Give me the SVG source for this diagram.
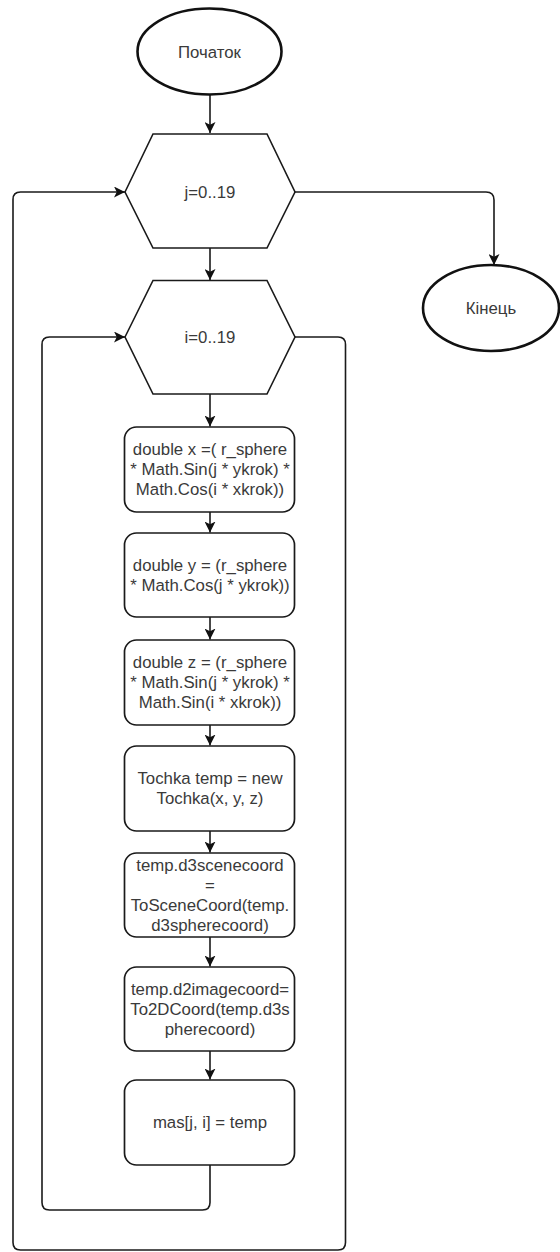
<svg xmlns="http://www.w3.org/2000/svg" width="560" height="1252" viewBox="0 0 560 1252">
  <style>
    .bg { fill: #ffffff; }
    .term { fill: #ffffff; stroke: #111111; stroke-width: 2.6; }
    .loop { fill: #ffffff; stroke: #1a1a1a; stroke-width: 1.6; stroke-linejoin: miter; }
    .proc { fill: #ffffff; stroke: #1a1a1a; stroke-width: 1.7; }
    .edge { fill: none; stroke: #1a1a1a; stroke-width: 1.6; }
    .lbl { font-family: "Liberation Sans", Arial, sans-serif; font-size: 16.8px; fill: #3a3a3a; text-anchor: middle; dominant-baseline: central; }
  </style>
  <defs>
    <marker id="arrow" viewBox="0 0 10 10" refX="10" refY="5" markerWidth="11" markerHeight="11" markerUnits="userSpaceOnUse" orient="auto">
      <path d="M0,0 L10,5 L0,10 L2.5,5 z" fill="#111111"/>
    </marker>
  </defs>

  <rect class="bg" x="0" y="0" width="560" height="1252"/>

  <!-- connectors -->
  <g id="connectors">
    <path class="edge" d="M210,95 V133" marker-end="url(#arrow)"/>
    <path class="edge" d="M210,248 V280" marker-end="url(#arrow)"/>
    <path class="edge" d="M210,394 V426.5" marker-end="url(#arrow)"/>
    <path class="edge" d="M210,512 V532.5" marker-end="url(#arrow)"/>
    <path class="edge" d="M210,617 V639.5" marker-end="url(#arrow)"/>
    <path class="edge" d="M210,725 V745.5" marker-end="url(#arrow)"/>
    <path class="edge" d="M210,831 V852.5" marker-end="url(#arrow)"/>
    <path class="edge" d="M210,937 V966.5" marker-end="url(#arrow)"/>
    <path class="edge" d="M210,1051 V1079.5" marker-end="url(#arrow)"/>
    <!-- exit of the outer loop -->
    <path class="edge" d="M295,192 H486 Q494,192 494,200 V265" marker-end="url(#arrow)"/>
    <!-- outer loop return (j) -->
    <path class="edge" d="M295,337 H338 Q345.5,337 345.5,344.5 V1242.5 Q345.5,1250 338,1250 H20.5 Q13,1250 13,1242.5 V199.5 Q13,192 20.5,192 H125" marker-end="url(#arrow)"/>
    <!-- inner loop return (i) -->
    <path class="edge" d="M210,1165 V1202.5 Q210,1210 202.5,1210 H49.5 Q42,1210 42,1202.5 V344.5 Q42,337 49.5,337 H125" marker-end="url(#arrow)"/>
  </g>

  <g id="start">
    <ellipse class="term" cx="209.5" cy="51.5" rx="72" ry="43"/>
    <text class="lbl" x="209.5" y="52">Початок</text>
  </g>

  <g id="loop-j">
    <polygon class="loop" points="125,192 153,134 267,134 295,192 267,248 153,248"/>
    <text class="lbl" x="210" y="192">j=0..19</text>
  </g>

  <g id="end">
    <ellipse class="term" cx="491" cy="308" rx="68" ry="43"/>
    <text class="lbl" x="491" y="308">Кінець</text>
  </g>

  <g id="loop-i">
    <polygon class="loop" points="125,337 153,280.5 267,280.5 295,337 267,394 153,394"/>
    <text class="lbl" x="210" y="337">i=0..19</text>
  </g>

  <g id="calc-x">
    <rect class="proc" x="124.5" y="427" width="170" height="85" rx="12"/>
    <text class="lbl" x="210" y="449.5">double x =( r_sphere</text>
    <text class="lbl" x="210" y="469.5">* Math.Sin(j * ykrok) *</text>
    <text class="lbl" x="210" y="489.5">Math.Cos(i * xkrok))</text>
  </g>

  <g id="calc-y">
    <rect class="proc" x="124.5" y="533" width="170" height="84" rx="12"/>
    <text class="lbl" x="210" y="565">double y = (r_sphere</text>
    <text class="lbl" x="210" y="585.5">* Math.Cos(j * ykrok))</text>
  </g>

  <g id="calc-z">
    <rect class="proc" x="124.5" y="640" width="170" height="85" rx="12"/>
    <text class="lbl" x="210" y="662">double z = (r_sphere</text>
    <text class="lbl" x="210" y="682">* Math.Sin(j * ykrok) *</text>
    <text class="lbl" x="210" y="702">Math.Sin(i * xkrok))</text>
  </g>

  <g id="new-point">
    <rect class="proc" x="124.5" y="746" width="170" height="85" rx="12"/>
    <text class="lbl" x="210" y="778">Tochka temp = new</text>
    <text class="lbl" x="210" y="798.5">Tochka(x, y, z)</text>
  </g>

  <g id="scene-coord">
    <rect class="proc" x="124.5" y="853" width="170" height="84" rx="12"/>
    <text class="lbl" x="210" y="865">temp.d3scenecoord</text>
    <text class="lbl" x="210" y="885">=</text>
    <text class="lbl" x="210" y="905.5">ToSceneCoord(temp.</text>
    <text class="lbl" x="210" y="925.5">d3spherecoord)</text>
  </g>

  <g id="image-coord">
    <rect class="proc" x="124.5" y="967" width="170" height="84" rx="12"/>
    <text class="lbl" x="210" y="989">temp.d2imagecoord=</text>
    <text class="lbl" x="210" y="1009">To2DCoord(temp.d3s</text>
    <text class="lbl" x="210" y="1029.5">pherecoord)</text>
  </g>

  <g id="store">
    <rect class="proc" x="124.5" y="1080" width="170" height="85" rx="12"/>
    <text class="lbl" x="210" y="1122">mas[j, i] = temp</text>
  </g>
</svg>
